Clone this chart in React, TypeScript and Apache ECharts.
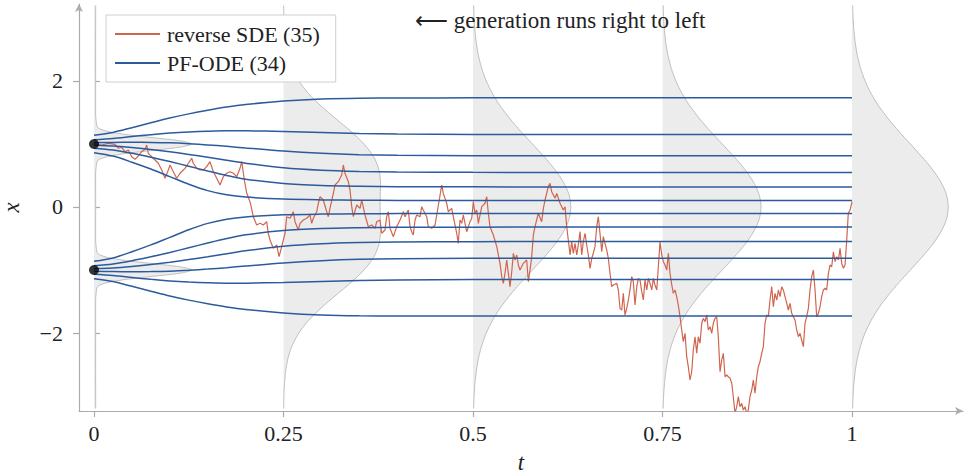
import React, { useEffect, useRef } from "react";
import * as echarts from "echarts";

const FONT = "Liberation Serif";
const RED = "#d0654f";
const BLUE = "#2b5b9c";

const xTickValues = [0, 0.25, 0.5, 0.75, 1];
const yTickValues = [-2, 0, 2];

const SDE_NAME = "reverse SDE (35)";
const ODE_NAME = "PF-ODE (34)";

// PF-ODE trajectories (time grid + one array per trajectory)
const odeT = [0, 0.025, 0.05, 0.075, 0.1, 0.125, 0.15, 0.175, 0.2, 0.25, 0.3, 0.35, 0.4, 0.5, 0.6, 0.8, 1];
const odeU1 = [1.138, 1.184, 1.259, 1.336, 1.412, 1.478, 1.536, 1.587, 1.627, 1.682, 1.715, 1.728, 1.73, 1.732, 1.732, 1.732, 1.732];
const odeU2 = [1.067, 1.087, 1.118, 1.148, 1.173, 1.191, 1.203, 1.21, 1.209, 1.198, 1.181, 1.166, 1.158, 1.152, 1.15, 1.15, 1.15];
const odeU3 = [1.021, 1.024, 1.027, 1.025, 1.018, 1.004, 0.985, 0.963, 0.937, 0.887, 0.852, 0.83, 0.82, 0.814, 0.812, 0.812, 0.812];
const odeU4 = [0.979, 0.967, 0.943, 0.913, 0.876, 0.834, 0.789, 0.741, 0.695, 0.623, 0.584, 0.565, 0.555, 0.55, 0.549, 0.549, 0.549];
const odeU5 = [0.933, 0.904, 0.852, 0.79, 0.721, 0.647, 0.572, 0.501, 0.442, 0.373, 0.343, 0.33, 0.323, 0.32, 0.319, 0.319, 0.319];
const odeU6 = [0.862, 0.808, 0.711, 0.602, 0.482, 0.362, 0.26, 0.193, 0.157, 0.125, 0.113, 0.108, 0.105, 0.105, 0.105, 0.105, 0.105];
const odeL1 = [-0.862, -0.808, -0.711, -0.602, -0.482, -0.362, -0.26, -0.193, -0.157, -0.125, -0.113, -0.108, -0.105, -0.105, -0.105, -0.105, -0.105];
const odeL2 = [-0.933, -0.904, -0.852, -0.79, -0.721, -0.647, -0.572, -0.501, -0.442, -0.373, -0.343, -0.33, -0.323, -0.32, -0.319, -0.319, -0.319];
const odeL3 = [-0.979, -0.967, -0.943, -0.913, -0.876, -0.834, -0.789, -0.741, -0.695, -0.623, -0.584, -0.565, -0.555, -0.55, -0.549, -0.549, -0.549];
const odeL4 = [-1.021, -1.024, -1.027, -1.025, -1.018, -1.004, -0.985, -0.963, -0.937, -0.887, -0.852, -0.83, -0.82, -0.814, -0.812, -0.812, -0.812];
const odeL5 = [-1.067, -1.087, -1.118, -1.148, -1.173, -1.191, -1.203, -1.21, -1.209, -1.198, -1.181, -1.166, -1.158, -1.152, -1.15, -1.15, -1.15];
const odeL6 = [-1.138, -1.184, -1.259, -1.336, -1.412, -1.478, -1.536, -1.587, -1.627, -1.682, -1.715, -1.728, -1.73, -1.732, -1.732, -1.732, -1.732];
const odeLines = [odeU1, odeU2, odeU3, odeU4, odeU5, odeU6, odeL1, odeL2, odeL3, odeL4, odeL5, odeL6];

// reverse SDE sample path
const sdeT = [
  0, 0.0102, 0.0189, 0.0277, 0.0321, 0.0365, 0.0409, 0.0453, 0.0497, 0.0541, 0.0584, 0.0629, 0.0673, 0.0695, 0.0716,
  0.0761, 0.0805, 0.0848, 0.0893, 0.0937, 0.098, 0.1003, 0.1046, 0.1091, 0.1135, 0.1178, 0.1201, 0.1244, 0.1289, 0.131,
  0.1355, 0.1398, 0.1442, 0.1487, 0.153, 0.1574, 0.1619, 0.1662, 0.1706, 0.1751, 0.1794, 0.1838, 0.1883, 0.1926, 0.1949,
  0.1983, 0.2015, 0.2058, 0.2102, 0.2146, 0.219, 0.2234, 0.2278, 0.2299, 0.2322, 0.2365, 0.241, 0.2441, 0.2476, 0.252,
  0.2542, 0.2586, 0.2629, 0.2652, 0.2695, 0.2718, 0.2761, 0.2806, 0.285, 0.2872, 0.2893, 0.2938, 0.2959, 0.2982, 0.3025,
  0.307, 0.3091, 0.3113, 0.3157, 0.3179, 0.3223, 0.3268, 0.3289, 0.3311, 0.3355, 0.3377, 0.34, 0.3421, 0.3466, 0.3509,
  0.3532, 0.3575, 0.3619, 0.3664, 0.3707, 0.373, 0.3773, 0.3795, 0.3839, 0.3861, 0.3883, 0.3905, 0.3949, 0.3993, 0.4037,
  0.4081, 0.4103, 0.4146, 0.4169, 0.4191, 0.4212, 0.4235, 0.4257, 0.4301, 0.4323, 0.4344, 0.4389, 0.441, 0.4455, 0.4499,
  0.4521, 0.4555, 0.4587, 0.4608, 0.4653, 0.4674, 0.4719, 0.474, 0.4785, 0.4806, 0.4828, 0.4851, 0.4872, 0.4917, 0.496,
  0.4983, 0.5004, 0.5026, 0.5049, 0.507, 0.5115, 0.5158, 0.5181, 0.5202, 0.5224, 0.5268, 0.5313, 0.5356, 0.5379, 0.54,
  0.5422, 0.5445, 0.5466, 0.5488, 0.5511, 0.5532, 0.5554, 0.5577, 0.5598, 0.562, 0.5664, 0.5708, 0.573, 0.5752, 0.5774,
  0.5796, 0.5818, 0.5861, 0.5906, 0.5928, 0.595, 0.5993, 0.6016, 0.6038, 0.6082, 0.6104, 0.6148, 0.6191, 0.6214, 0.6236,
  0.6257, 0.628, 0.6302, 0.6323, 0.6346, 0.6368, 0.6389, 0.6412, 0.6434, 0.6455, 0.6478, 0.65, 0.6521, 0.6544, 0.6566,
  0.6587, 0.6609, 0.6632, 0.6653, 0.6675, 0.6698, 0.6719, 0.6741, 0.6764, 0.6785, 0.6807, 0.683, 0.6851, 0.6896, 0.6917,
  0.6939, 0.6962, 0.6983, 0.7005, 0.7028, 0.7049, 0.7071, 0.7094, 0.7115, 0.7137, 0.716, 0.7181, 0.7203, 0.7226, 0.7247,
  0.7269, 0.7292, 0.7313, 0.7335, 0.7358, 0.7379, 0.7401, 0.7424, 0.7445, 0.7467, 0.749, 0.7511, 0.7533, 0.7556, 0.7577,
  0.7599, 0.7622, 0.7643, 0.7665, 0.7687, 0.7708, 0.7731, 0.7753, 0.7774, 0.7797, 0.7819, 0.784, 0.7863, 0.7885, 0.7906,
  0.7929, 0.7951, 0.7972, 0.7995, 0.8017, 0.8038, 0.8061, 0.8083, 0.8104, 0.8127, 0.8149, 0.817, 0.8193, 0.8215, 0.8236,
  0.8259, 0.8281, 0.8302, 0.8325, 0.8347, 0.8368, 0.8391, 0.8413, 0.8434, 0.8456, 0.8479, 0.85, 0.8522, 0.8545, 0.8566,
  0.8588, 0.8611, 0.8632, 0.8654, 0.8677, 0.8698, 0.872, 0.8743, 0.8764, 0.8786, 0.8809, 0.883, 0.8852, 0.8875, 0.8896,
  0.8918, 0.8941, 0.8962, 0.8984, 0.9007, 0.9028, 0.905, 0.9073, 0.9094, 0.9116, 0.9139, 0.916, 0.9182, 0.9204, 0.9226,
  0.9248, 0.927, 0.9292, 0.9314, 0.9336, 0.9358, 0.938, 0.9402, 0.9424, 0.9446, 0.9468, 0.949, 0.9512, 0.9534, 0.9556,
  0.9578, 0.96, 0.9622, 0.9644, 0.9666, 0.9688, 0.971, 0.9732, 0.9754, 0.9776, 0.9798, 0.982, 0.9842, 0.9864, 0.9886,
  0.9908, 0.993, 0.9951, 0.9974, 1.0,
];
const sdeX = [
  1.0, 0.984, 1.011, 0.995, 0.932, 0.948, 0.878, 0.905, 0.798, 0.757, 0.81, 0.878, 0.916, 0.984, 0.852,
  0.798, 0.746, 0.694, 0.587, 0.456, 0.587, 0.667, 0.56, 0.456, 0.535, 0.587, 0.614, 0.694, 0.773, 0.694,
  0.614, 0.587, 0.587, 0.64, 0.719, 0.56, 0.456, 0.349, 0.481, 0.535, 0.56, 0.535, 0.481, 0.614, 0.719,
  0.429, 0.217, 0.084, -0.154, -0.286, -0.259, -0.286, -0.233, -0.417, -0.524, -0.656, -0.603, -0.789, -0.63, -0.417,
  -0.154, -0.179, -0.075, -0.233, -0.365, -0.259, -0.206, -0.179, -0.127, -0.259, -0.179, -0.075, 0.059, 0.163, 0.111,
  -0.075, -0.154, -0.021, 0.217, 0.349, 0.402, 0.508, 0.667, 0.535, 0.402, 0.27, 0.005, -0.154, 0.032, -0.021,
  0.111, -0.127, -0.313, -0.286, -0.338, -0.233, -0.206, -0.417, -0.365, -0.154, -0.075, -0.338, -0.471, -0.313, -0.206,
  -0.075, -0.154, -0.048, -0.313, -0.392, -0.444, -0.206, -0.127, -0.154, 0.005, -0.048, -0.154, -0.313, -0.338, -0.286,
  -0.127, 0.111, 0.349, 0.217, 0.059, -0.075, -0.021, -0.154, -0.417, -0.576, -0.206, -0.259, -0.127, -0.392, -0.233,
  -0.179, 0.084, -0.1, -0.048, -0.259, 0.005, 0.059, 0.163, -0.1, -0.313, -0.444, -0.63, -0.894, -1.106, -1.211,
  -1.052, -0.841, -1.052, -1.265, -1.027, -0.735, -0.841, -0.762, -0.921, -1.0, -0.894, -0.841, -1.186, -1.0, -0.789,
  -0.444, -0.313, -0.1, -0.233, -0.021, 0.111, 0.322, 0.376, 0.243, 0.138, 0.217, 0.059, -0.048, 0.005, -0.313,
  -0.524, -0.762, -0.551, -0.735, -0.576, -0.762, -0.603, -0.392, -0.762, -0.551, -0.417, -0.603, -0.762, -0.973, -0.814,
  -0.735, -0.63, -0.313, -0.154, -0.417, -0.71, -0.471, -0.576, -0.683, -0.814, -1.052, -1.265, -1.238, -1.211, -1.317,
  -1.608, -1.635, -1.37, -1.714, -1.608, -1.476, -1.317, -1.106, -1.186, -1.556, -1.265, -1.132, -1.159, -1.344, -1.476,
  -1.159, -1.317, -1.132, -1.211, -1.317, -1.132, -1.238, -1.317, -0.948, -0.551, -0.762, -0.868, -0.921, -1.0, -0.735,
  -1.052, -1.238, -1.37, -1.317, -1.424, -1.556, -1.741, -1.952, -2.138, -2.005, -2.376, -2.535, -2.746, -2.614, -2.27,
  -2.059, -2.322, -2.059, -2.163, -1.846, -1.767, -1.821, -1.714, -1.952, -1.9, -2.005, -1.846, -1.767, -1.741, -2.059,
  -2.614, -2.429, -2.322, -2.694, -2.667, -2.694, -2.719, -2.798, -3.011, -3.275, -3.17, -3.011, -3.17, -3.116, -3.222,
  -3.17, -3.275, -3.222, -3.011, -2.905, -2.746, -2.957, -2.694, -2.535, -2.456, -2.322, -2.217, -1.846, -1.714, -1.741,
  -1.476, -1.265, -1.583, -1.37, -1.476, -1.317, -1.424, -1.265, -1.317, -1.424, -1.529, -1.635, -1.529, -1.687, -1.741,
  -1.794, -1.952, -2.059, -2.005, -2.111, -2.217, -1.846, -1.741, -1.608, -1.317, -1.106, -1.0, -1.317, -1.741, -1.687,
  -1.583, -1.424, -1.317, -1.29, -1.317, -1.052, -0.921, -0.948, -0.71, -0.868, -0.789, -0.841, -0.656, -0.894, -0.973,
  -0.921, -0.524, -0.1, -0.048, 0.084,
];

const startPoints = [1, -1];

// Marginal densities drawn sideways at these times
const densityTimes = [0, 0.25, 0.5, 0.75, 1];
const densityGridX0 = [
  -3.2, -1.45, -1.35, -1.3, -1.25, -1.2, -1.15, -1.1, -1.05, -1.0, -0.95, -0.9, -0.85, -0.8, -0.75, -0.7, -0.65, -0.55,
  0, 0.55, 0.65, 0.7, 0.75, 0.8, 0.85, 0.9, 0.95, 1.0, 1.05, 1.1, 1.15, 1.2, 1.25, 1.3, 1.35, 1.45, 3.2,
];
const densityW0 = [
  0.0022, 0.0022, 0.003, 0.0035, 0.0062, 0.0175, 0.042, 0.078, 0.114, 0.129, 0.114, 0.078, 0.042, 0.0175, 0.0062, 0.0035, 0.003, 0.0022,
  0.0022, 0.0022, 0.003, 0.0035, 0.0062, 0.0175, 0.042, 0.078, 0.114, 0.129, 0.114, 0.078, 0.042, 0.0175, 0.0062, 0.0035, 0.003, 0.0022, 0.0022,
];
const densityGridX = [
  -3.2, -3.0, -2.8, -2.6, -2.4, -2.2, -2.0, -1.8, -1.6, -1.4, -1.2, -1.0, -0.8, -0.6, -0.4, -0.2, 0,
  0.2, 0.4, 0.6, 0.8, 1.0, 1.2, 1.4, 1.6, 1.8, 2.0, 2.2, 2.4, 2.6, 2.8, 3.0, 3.2,
];
const densityW025 = [
  0.0002, 0.0005, 0.0013, 0.0029, 0.0059, 0.0114, 0.0202, 0.033, 0.0498, 0.0691, 0.089, 0.1062, 0.1189, 0.1257, 0.128, 0.1277, 0.1274,
  0.1277, 0.128, 0.1257, 0.1189, 0.1062, 0.089, 0.0691, 0.0498, 0.033, 0.0202, 0.0114, 0.0059, 0.0029, 0.0013, 0.0005, 0.0002,
];
const densityW05 = [
  0.0008, 0.0014, 0.0025, 0.0044, 0.0072, 0.0115, 0.0175, 0.0257, 0.0361, 0.0487, 0.063, 0.0784, 0.0937, 0.1077, 0.119, 0.1265, 0.129,
  0.1265, 0.119, 0.1077, 0.0937, 0.0784, 0.063, 0.0487, 0.0361, 0.0257, 0.0175, 0.0115, 0.0072, 0.0044, 0.0025, 0.0014, 0.0008,
];
const densityW075 = [
  0.0008, 0.0014, 0.0026, 0.0044, 0.0073, 0.0116, 0.0176, 0.0258, 0.0363, 0.0489, 0.0633, 0.0788, 0.0942, 0.1084, 0.1198, 0.1274, 0.13,
  0.1274, 0.1198, 0.1084, 0.0942, 0.0788, 0.0633, 0.0489, 0.0363, 0.0258, 0.0176, 0.0116, 0.0073, 0.0044, 0.0026, 0.0014, 0.0008,
];
const densityW1 = [
  0.0008, 0.0014, 0.0025, 0.0043, 0.0071, 0.0113, 0.0172, 0.0252, 0.0354, 0.0478, 0.0618, 0.077, 0.092, 0.1059, 0.117, 0.1245, 0.127,
  0.1245, 0.117, 0.1059, 0.092, 0.077, 0.0618, 0.0478, 0.0354, 0.0252, 0.0172, 0.0113, 0.0071, 0.0043, 0.0025, 0.0014, 0.0008,
];
const densityGrids = [densityGridX0, densityGridX, densityGridX, densityGridX, densityGridX];
const densityWidths = [densityW0, densityW025, densityW05, densityW075, densityW1];

const X_MIN = -0.0198;
const X_MAX = 1.1464;
const Y_MIN = -3.238;
const Y_MAX = 3.222;

function buildOption(): any {
  const axisColor = "#ababab";
  const labelStyle = { fontFamily: FONT, fontSize: 22, color: "#222" };

  const densitySeries = {
    type: "custom",
    name: "densities",
    z: 1,
    clip: true,
    silent: true,
    data: densityTimes.map((t) => [t, 0]),
    encode: { x: 0, y: 1 },
    renderItem: (params: any, api: any) => {
      const i = params.dataIndex;
      const tk = densityTimes[i];
      const xs = densityGrids[i];
      const ws = densityWidths[i];
      const curve = xs.map((x, j) => api.coord([tk + ws[j], x]));
      const bottom = api.coord([tk, xs[0]]);
      const top = api.coord([tk, xs[xs.length - 1]]);
      const box = [top, top];
      return {
        type: "group",
        children: [
          {
            type: "polygon",
            shape: { points: [bottom, ...curve, top], smooth: 0.25, smoothConstraint: box },
            style: { fill: "#ececec", stroke: "none" },
          },
          {
            type: "polyline",
            shape: { points: curve, smooth: 0.25, smoothConstraint: box },
            style: { fill: "none", stroke: "#b9b9b9", lineWidth: 0.9 },
          },
        ],
      };
    },
  };

  const sdeSeries = {
    type: "line",
    name: SDE_NAME,
    z: 2,
    data: sdeT.map((t, i) => [t, sdeX[i]]),
    showSymbol: false,
    symbol: "none",
    clip: true,
    lineStyle: { color: RED, width: 1.2 },
    itemStyle: { color: RED },
  };

  const odeSeries = odeLines.map((line) => ({
    type: "line",
    name: ODE_NAME,
    z: 3,
    data: odeT.map((t, i) => [t, line[i]]),
    showSymbol: false,
    symbol: "none",
    smooth: 0.3,
    lineStyle: { color: BLUE, width: 1.5 },
    itemStyle: { color: BLUE },
  }));

  const dotSeries = {
    type: "scatter",
    name: "start",
    z: 5,
    data: startPoints.map((x) => [0, x]),
    symbolSize: 10,
    itemStyle: { color: "#000" },
    silent: true,
  };

  return {
    animation: false,
    backgroundColor: "#fff",
    grid: { left: 79, right: 3, top: 4, bottom: 64, outerBoundsMode: "none", containLabel: false },
    legend: {
      data: [SDE_NAME, ODE_NAME],
      orient: "vertical",
      left: 106,
      top: 15,
      padding: [8, 16, 8, 9],
      itemGap: 7,
      itemWidth: 45,
      itemHeight: 2,
      icon: "rect",
      backgroundColor: "#fff",
      borderColor: "#cfcfcf",
      borderWidth: 1,
      selectedMode: false,
      textStyle: { fontFamily: FONT, fontSize: 22, lineHeight: 22, color: "#222", padding: [0, 0, 0, 2] },
    },
    graphic: [
      {
        type: "text",
        left: 415,
        top: 9,
        z: 10,
        style: {
          text: "\u27F5 generation runs right to left",
          fontFamily: FONT,
          fontSize: 23,
          fill: "#222",
        },
      },
    ],
    xAxis: [
      {
        type: "value",
        min: X_MIN,
        max: X_MAX,
        name: "t",
        nameLocation: "middle",
        nameGap: 40,
        nameTextStyle: { fontFamily: FONT, fontStyle: "italic", fontSize: 23, color: "#222" },
        axisLine: { show: true, onZero: false, lineStyle: { color: axisColor, width: 1.2 }, symbol: ["none", "arrow"], symbolSize: [6, 8] },
        axisTick: { show: true, length: 6, customValues: xTickValues, lineStyle: { color: axisColor, width: 1.2 } },
        axisLabel: { show: true, margin: 11, customValues: xTickValues, ...labelStyle },
        splitLine: { show: false },
      },
    ],
    yAxis: [
      {
        type: "value",
        min: Y_MIN,
        max: Y_MAX,
        name: "x",
        nameLocation: "middle",
        nameGap: 56,
        nameRotate: 90,
        nameTextStyle: { fontFamily: FONT, fontStyle: "italic", fontSize: 23, color: "#222" },
        axisLine: { show: true, onZero: false, lineStyle: { color: axisColor, width: 1.2 }, symbol: ["none", "arrow"], symbolSize: [6, 8] },
        axisTick: { show: true, length: 6, customValues: yTickValues, lineStyle: { color: axisColor, width: 1.2 } },
        axisLabel: {
          show: true,
          margin: 16,
          customValues: yTickValues,
          formatter: (v: number) => (v < 0 ? "\u2212" + String(-v) : String(v)),
          ...labelStyle,
        },
        splitLine: { show: false },
      },
      {
        type: "value",
        min: Y_MIN,
        max: Y_MAX,
        position: "left",
        offset: 0,
        axisLine: { show: false },
        axisTick: { show: true, inside: true, length: 6, customValues: yTickValues, lineStyle: { color: axisColor, width: 1.2 } },
        axisLabel: { show: false },
        splitLine: { show: false },
      },
    ],
    series: [densitySeries, sdeSeries, ...odeSeries, dotSeries],
  };
}

export default function App() {
  const ref = useRef<HTMLDivElement>(null);
  useEffect(() => {
    if (!ref.current) return;
    const chart = echarts.init(ref.current, undefined, { renderer: "svg" });
    chart.setOption(buildOption());
    return () => chart.dispose();
  }, []);
  return (
    <div
      ref={ref}
      style={{ position: "fixed", left: 0, top: 0, width: 966, height: 475, background: "#fff" }}
    />
  );
}
